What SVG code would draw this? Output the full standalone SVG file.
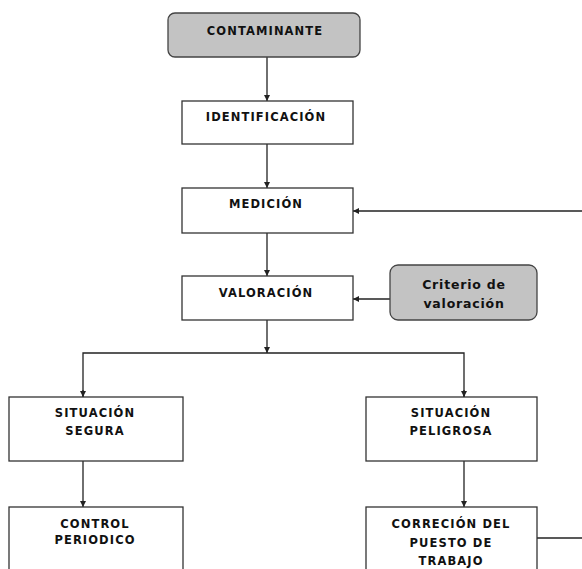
<svg xmlns="http://www.w3.org/2000/svg" width="582" height="569" viewBox="0 0 582 569">
<defs>
<marker id="ah" viewBox="0 0 10 10" refX="10" refY="5" markerWidth="6" markerHeight="6" orient="auto" markerUnits="userSpaceOnUse">
<path d="M0,0 L10,5 L0,10 z" fill="#222"/>
</marker>
</defs>
<style>
.box{fill:#fff;stroke:#333;stroke-width:1.3}
.gbox{fill:#c3c3c3;stroke:#444;stroke-width:1.3}
.t{font-family:"DejaVu Sans",sans-serif;font-weight:bold;font-size:11.5px;letter-spacing:1.1px;fill:#111;text-anchor:middle}
.tm{font-family:"DejaVu Sans",sans-serif;font-weight:bold;font-size:12.5px;letter-spacing:0.8px;fill:#111;text-anchor:middle}
.c{fill:none;stroke:#222;stroke-width:1.3}
</style>
<rect width="582" height="569" fill="#fff"/>
<g id="connectors">
<line class="c" x1="267" y1="57" x2="267" y2="101" marker-end="url(#ah)"/>
<line class="c" x1="267" y1="144" x2="267" y2="188" marker-end="url(#ah)"/>
<line class="c" x1="267" y1="233" x2="267" y2="276" marker-end="url(#ah)"/>
<line class="c" x1="582" y1="211" x2="353" y2="211" marker-end="url(#ah)"/>
<line class="c" x1="390" y1="299" x2="353" y2="299" marker-end="url(#ah)"/>
<line class="c" x1="267" y1="320" x2="267" y2="353" marker-end="url(#ah)"/>
<polyline class="c" points="83,397 83,353 464,353 464,397"/>
<line class="c" x1="83" y1="390" x2="83" y2="397" marker-end="url(#ah)"/>
<line class="c" x1="464" y1="390" x2="464" y2="397" marker-end="url(#ah)"/>
<line class="c" x1="83" y1="461" x2="83" y2="507" marker-end="url(#ah)"/>
<line class="c" x1="464" y1="461" x2="464" y2="507" marker-end="url(#ah)"/>
<line class="c" x1="537" y1="538" x2="582" y2="538"/>
</g>
<g id="contaminante">
<rect class="gbox" x="168" y="13" width="192" height="44" rx="7"/>
<text class="t" x="265" y="35">CONTAMINANTE</text>
</g>
<g id="identificacion">
<rect class="box" x="182" y="101" width="171" height="43"/>
<text class="t" x="266" y="121">IDENTIFICACIÓN</text>
</g>
<g id="medicion">
<rect class="box" x="182" y="188" width="171" height="45"/>
<text class="t" x="266" y="208">MEDICIÓN</text>
</g>
<g id="valoracion">
<rect class="box" x="182" y="276" width="171" height="44"/>
<text class="t" x="266" y="297">VALORACIÓN</text>
</g>
<g id="criterio">
<rect class="gbox" x="390" y="265" width="147" height="55" rx="8"/>
<text class="tm" x="464" y="289">Criterio de</text>
<text class="tm" x="464" y="308">valoración</text>
</g>
<g id="segura">
<rect class="box" x="9" y="397" width="174" height="64"/>
<text class="t" x="95" y="417">SITUACIÓN</text>
<text class="t" x="95" y="435">SEGURA</text>
</g>
<g id="peligrosa">
<rect class="box" x="366" y="397" width="171" height="64"/>
<text class="t" x="451" y="417">SITUACIÓN</text>
<text class="t" x="451" y="435">PELIGROSA</text>
</g>
<g id="control">
<rect class="box" x="9" y="507" width="174" height="70"/>
<text class="t" x="95" y="528">CONTROL</text>
<text class="t" x="95" y="544">PERIODICO</text>
</g>
<g id="correccion">
<rect class="box" x="366" y="507" width="171" height="70"/>
<text class="t" x="451" y="528">CORRECIÓN DEL</text>
<text class="t" x="451" y="547">PUESTO DE</text>
<text class="t" x="451" y="565">TRABAJO</text>
</g>
</svg>
